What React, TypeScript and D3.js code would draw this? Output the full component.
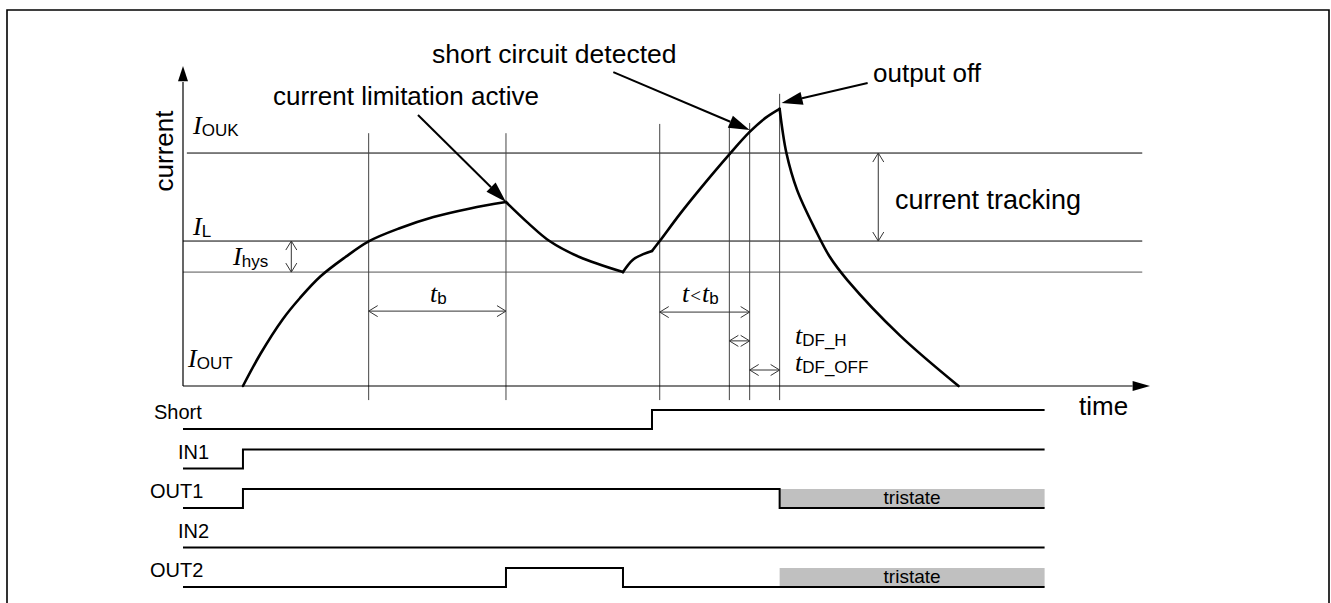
import { scaleLinear, scalePoint, line, curveCatmullRom, curveStepAfter } from "d3";

// chart units: time 0..100 along the x axis, current 0..10 along the y axis
const timeMax = 100;
const currentMax = 10;

// I_OUT current trace, one array per smooth segment (time, current)
const riseCurve: [number, number][] = [
  [6.2, 0], [8.0, 1.0], [10.3, 2.08], [12.1, 2.75], [14.2, 3.42], [16.8, 4.03],
  [19.2, 4.52], [22.4, 4.93], [25.9, 5.28], [29.7, 5.55], [33.4, 5.75],
];
const limitCurve: [number, number][] = [
  [33.4, 5.75], [35.7, 5.09], [37.9, 4.53], [41.0, 4.03], [45.5, 3.56],
];
const shortBump: [number, number][] = [
  [45.5, 3.56], [46.5, 3.94], [47.6, 4.12], [48.5, 4.22],
];
const shortRise: [number, number][] = [
  [48.5, 4.22], [49.3, 4.53], [51.4, 5.38], [53.5, 6.17], [56.5, 7.24],
  [58.6, 7.94], [60.2, 8.37], [61.7, 8.66],
];
const offDecay: [number, number][] = [
  [61.7, 8.66], [62.4, 7.28], [63.5, 6.13], [65.4, 4.88], [66.9, 4.03],
  [68.7, 3.31], [74.1, 1.59], [80.2, 0],
];

// thresholds
const levelOUK = 7.28;
const levelL = 4.53;
const levelHys = 3.56;

// vertical time markers and how high they reach
const markerTimes = [19.2, 33.4, 49.3, 56.5, 58.6, 61.7];
const markerTops = [7.9, 7.9, 8.19, 8.09, 8.22, 9.13];

// digital signals (time, level)
const signalNames = ["Short", "IN1", "OUT1", "IN2", "OUT2"];
const signalLabelDx = [-29, -5, -33, -5, -33];
const shortEdges: [number, number][] = [[0, 0], [48.5, 1], [89.1, 1]];
const in1Edges: [number, number][] = [[0, 0], [6.2, 1], [89.1, 1]];
const out1Edges: [number, number][] = [[0, 0], [6.2, 1], [61.7, 0], [89.1, 0]];
const in2Edges: [number, number][] = [[0, 0], [89.1, 0]];
const out2Edges: [number, number][] = [[0, 0], [33.4, 1], [45.5, 0], [89.1, 0]];
const tristateRows = ["OUT1", "OUT2"];
const tristateSpan = [61.7, 89.1];

const sans = "'Liberation Sans', Arial, Helvetica, sans-serif";
const serif = "'Liberation Serif', 'Times New Roman', serif";

type Pt = [number, number];

function OpenHead({ tip, from }: { tip: Pt; from: Pt }) {
  const dx = tip[0] - from[0];
  const dy = tip[1] - from[1];
  const len = Math.hypot(dx, dy) || 1;
  const ux = dx / len, uy = dy / len;
  const l = 9, h = 5.5;
  const bx = tip[0] - ux * l, by = tip[1] - uy * l;
  return (
    <path
      d={`M${bx - uy * h},${by + ux * h}L${tip[0]},${tip[1]}L${bx + uy * h},${by - ux * h}`}
      fill="none"
      stroke="#333"
      strokeWidth={1}
    />
  );
}

function Dimension({ a, b }: { a: Pt; b: Pt }) {
  return (
    <g>
      <line x1={a[0]} y1={a[1]} x2={b[0]} y2={b[1]} stroke="#333" strokeWidth={1} />
      <OpenHead tip={a} from={b} />
      <OpenHead tip={b} from={a} />
    </g>
  );
}

function Pointer({ from, tip }: { from: Pt; tip: Pt }) {
  const dx = tip[0] - from[0];
  const dy = tip[1] - from[1];
  const len = Math.hypot(dx, dy);
  const ux = dx / len, uy = dy / len;
  const l = 21, h = 6.5;
  const bx = tip[0] - ux * l, by = tip[1] - uy * l;
  return (
    <g>
      <line x1={from[0]} y1={from[1]} x2={bx} y2={by} stroke="#000" strokeWidth={2} />
      <path
        d={`M${tip[0]},${tip[1]}L${bx - uy * h},${by + ux * h}L${bx + uy * h},${by - ux * h}Z`}
        fill="#000"
      />
    </g>
  );
}

function Sym({ main, sub, x, y, size = 26, subSize = 17 }: { main: string; sub: string; x: number; y: number; size?: number; subSize?: number }) {
  return (
    <text x={x} y={y}>
      <tspan fontFamily={serif} fontStyle="italic" fontSize={size}>{main}</tspan>
      <tspan fontFamily={sans} fontSize={subSize} dy={2}>{sub}</tspan>
    </text>
  );
}

export default function App() {
  const x = scaleLinear().domain([0, timeMax]).range([183, 1150]);
  const y = scaleLinear().domain([0, currentMax]).range([386, 66]);
  const row = scalePoint<string>().domain(signalNames).range([429, 587]);
  const high = 19;

  const trace = line<[number, number]>()
    .x((d) => x(d[0]))
    .y((d) => y(d[1]))
    .curve(curveCatmullRom.alpha(0.5));

  const segments = [riseCurve, limitCurve, shortBump, shortRise, offDecay];
  const signals = [shortEdges, in1Edges, out1Edges, in2Edges, out2Edges];

  const x0 = x(0);
  const y0 = y(0);

  return (
    <svg width={1331} height={603} style={{ position: "absolute", left: 0, top: 0, background: "#fff" }}>
      <path d="M7,604V10H1329V604" fill="none" stroke="#000" strokeWidth={1.6} />

      {/* threshold lines */}
      <line x1={x(0.4)} x2={x(99.2)} y1={y(levelOUK)} y2={y(levelOUK)} stroke="#000" strokeWidth={1} />
      <line x1={x0} x2={x(99.2)} y1={y(levelL)} y2={y(levelL)} stroke="#000" strokeWidth={1} />
      <line x1={x0} x2={x(99.2)} y1={y(levelHys)} y2={y(levelHys)} stroke="#555" strokeWidth={1} />

      {/* time markers */}
      {markerTimes.map((t, i) => (
        <line key={`m-${i}`} x1={x(t)} x2={x(t)} y1={y(markerTops[i])} y2={y(-0.44)} stroke="#444" strokeWidth={1} />
      ))}

      {/* axes */}
      <line x1={x0} y1={y0} x2={x(0)} y2={y(9.5)} stroke="#000" strokeWidth={1.2} />
      <path d={`M${x0},${y(currentMax)}L${x0 - 5},${y(9.52)}L${x0 + 5},${y(9.52)}Z`} fill="#000" />
      <line x1={x0} y1={y0} x2={x(98.2)} y2={y0} stroke="#000" strokeWidth={1.2} />
      <path d={`M${x(timeMax)},${y0}L${x(98.2)},${y0 - 5}L${x(98.2)},${y0 + 5}Z`} fill="#000" />

      <text transform={`translate(173,151) rotate(-90)`} textAnchor="middle" fontFamily={sans} fontSize={26}>current</text>
      <text x={1079} y={415} fontFamily={sans} fontSize={26}>time</text>

      {/* current trace */}
      {segments.map((s, i) => (
        <path key={`seg-${i}`} d={trace(s) ?? ""} fill="none" stroke="#000" strokeWidth={2.6} strokeLinecap="round" strokeLinejoin="round" />
      ))}

      {/* level labels */}
      <Sym main="I" sub="OUK" x={193} y={134} />
      <Sym main="I" sub="L" x={193} y={235} />
      <Sym main="I" sub="hys" x={233} y={265} />
      <Sym main="I" sub="OUT" x={188} y={367} />

      {/* dimension arrows */}
      <Dimension a={[x(11.2), y(levelL)]} b={[x(11.2), y(levelHys)]} />
      <Dimension a={[x(71.9), y(levelOUK)]} b={[x(71.9), y(levelL)]} />
      <Dimension a={[x(markerTimes[0]), y(2.34)]} b={[x(markerTimes[1]), y(2.34)]} />
      <Dimension a={[x(markerTimes[2]), y(2.31)]} b={[x(markerTimes[4]), y(2.31)]} />
      <Dimension a={[x(markerTimes[3]), y(1.41)]} b={[x(markerTimes[4]), y(1.41)]} />
      <Dimension a={[x(markerTimes[4]), y(0.5)]} b={[x(markerTimes[5]), y(0.5)]} />

      <text x={895} y={209} fontFamily={sans} fontSize={27}>current tracking</text>
      <Sym main="t" sub="b" x={430} y={302} />
      <text x={682} y={302}>
        <tspan fontFamily={serif} fontStyle="italic" fontSize={26}>t</tspan>
        <tspan fontFamily={serif} fontSize={19} dx={1}>&lt;</tspan>
        <tspan fontFamily={serif} fontStyle="italic" fontSize={26} dx={1}>t</tspan>
        <tspan fontFamily={sans} fontSize={17} dy={2}>b</tspan>
      </text>
      <Sym main="t" sub="DF_H" x={795} y={344} />
      <Sym main="t" sub="DF_OFF" x={795} y={371} />

      {/* annotations */}
      <text x={273} y={105} fontFamily={sans} fontSize={26}>current limitation active</text>
      <Pointer from={[x(24.3), y(8.47)]} tip={[x(33.4), y(5.75)]} />
      <text x={432} y={63} fontFamily={sans} fontSize={26.5}>short circuit detected</text>
      <Pointer from={[x(44.5), y(9.81)]} tip={[x(58.6), y(8.0)]} />
      <text x={873} y={82} fontFamily={sans} fontSize={26}>output off</text>
      <Pointer from={[x(70.8), y(9.47)]} tip={[x(61.9), y(8.84)]} />

      {/* digital signals */}
      {signalNames.map((name, i) => {
        const base = row(name) ?? 0;
        const sig = line<[number, number]>()
          .x((d) => x(d[0]))
          .y((d) => base - d[1] * high)
          .curve(curveStepAfter);
        const tri = tristateRows.includes(name);
        return (
          <g key={name}>
            {tri && (
              <g>
                <rect x={x(tristateSpan[0])} y={base - high} width={x(tristateSpan[1]) - x(tristateSpan[0])} height={high} fill="#c0c0c0" />
                <text
                  x={(x(tristateSpan[0]) + x(tristateSpan[1])) / 2}
                  y={base - 4}
                  textAnchor="middle"
                  fontFamily={sans}
                  fontSize={19}
                >
                  tristate
                </text>
              </g>
            )}
            <path d={sig(signals[i]) ?? ""} fill="none" stroke="#000" strokeWidth={2} />
            <text x={x0 + signalLabelDx[i]} y={base - 10} fontFamily={sans} fontSize={20}>{name}</text>
          </g>
        );
      })}
    </svg>
  );
}
